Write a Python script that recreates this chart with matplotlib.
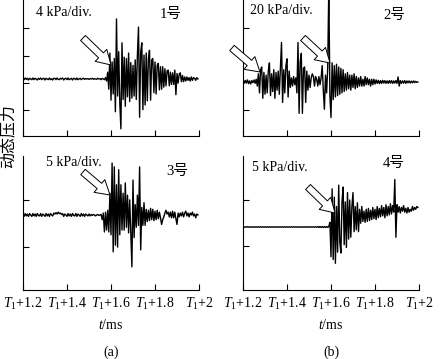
import numpy as np
import matplotlib
matplotlib.use("Agg")
import matplotlib.pyplot as plt
from matplotlib.patches import FancyArrowPatch

plt.rcParams['font.family'] = ['Liberation Serif', 'Noto Sans CJK SC']
plt.rcParams['mathtext.fontset'] = 'custom'
plt.rcParams['mathtext.rm'] = 'Liberation Serif'
plt.rcParams['mathtext.it'] = 'Liberation Serif:italic'

# sampling grid (ms after T1)
t_start = 1.2
dt = 0.005
n_samples = 160

x_ticks = [1.2, 1.4, 1.6, 1.8, 2.0]
x_tick_labels = [r'$T_1$+1.2', r'$T_1$+1.4', r'$T_1$+1.6', r'$T_1$+1.8', r'$T_1$+2']

# dynamic pressure, kPa (relative to baseline)
p1 = [0.1, -0.1, 0.15, -0.05, 0.1, -0.15, 0.1, 0.0, -0.1, 0.15,
      -0.1, 0.1, 0.0, -0.15, 0.1, -0.05, 0.15, -0.1, 0.05, 0.1,
      -0.15, 0.1, 0.0, -0.1, 0.15, -0.1, 0.05, -0.15, 0.1, 0.1,
      -0.1, 0.15, -0.05, -0.1, 0.1, 0.0, 0.15, -0.15, 0.05, 0.1,
      -0.1, 0.15, -0.1, 0.0, 0.1, -0.15, 0.1, 0.05, -0.1, 0.15,
      -0.1, 0.0, 0.1, -0.1, 0.05, 0.1, -0.05, 0.05, 0.0, 0.05,
      -0.05, 0.05, 0.0, 0.1, -0.05, 0.05, 0.0, -0.05, 0.1, 0.0,
      0.05, -0.1, 0.1, 0.0, -0.1, 0.2, -0.3,
      1.0, -1.5, 3.8, -3.1, 2.5, -2.2, 3.0, -4.8, 8.8, -2.5,
      4.0, -3.5, -7.3, 5.3, -3.0, 3.2, -4.0, 3.0, -2.6, 3.8,
      -3.3, 2.4, -2.8, 2.0, -2.5, 2.8, -3.0, 3.5, 7.6, -5.6,
      4.0, 5.3, -4.5, 3.5, -3.8, 3.8, -3.2, 3.0, 4.2, -3.1,
      2.8, 3.0, -2.0, 2.5, -2.2, 2.0, 2.3, -1.6, 1.8, -1.5,
      1.8, -1.2, 1.5, -1.0, 1.2, 1.3, -1.0, 1.0, -0.8, 0.9,
      -0.8, 1.3, -2.3, 0.8, -0.6, 0.7, 0.9, -0.4, 0.5, -0.4,
      0.3, -0.3, 0.3, -0.2, 0.2, -0.3, 0.3, -0.2, 0.2, 0.1,
      -0.2, 0.2, 0.0]

p2 = [0.5, -1.0, 1.2, -0.8, 1.5, -1.2, 0.8, -1.5, 1.0, -0.5, 1.5, -1.0, 2.0,
      -3, 6, -8, 9, 11, -12, 7, -9, 5, -8,
      8, 14, -10, 6, -7, 9, -12, 7, -6, 8,
      -9, 10, 29, -15, 9, -8, 12, 17, -11, 8,
      -4, 3, -3, 4, -2, 3,
      -8, 29, -23, 15, 21, -23, 10, 11, -15, 8,
      -6, 5, -4, 3, 6, 4, -3, 4, 2, -3, 4, -2, 3,
      12, -6, -20, 5, -8, 10,
      70, -10, -26, 14, -13, 12, -11, 13, -10, 11,
      -9, 10, -8, 9, -7, 6, -6, 7, -5, 5,
      -6, 5, -4, 6, -5, 4, -4, 3, -3, 4,
      -3, 2, -3, 4, -2, 3, -2, 2, -3, 2,
      -2, 2, -1.5, 1.5, -1, 1.2, -1.2, 1, -1, 1.2,
      -0.8, 1, -1, 0.8, -1, 1, -0.8, 1, -1, 0.8,
      -0.8, 1, -1, 3.7, -3, 1, -1, 0.8, -0.8, 1,
      -1, 0.8, -0.6, 0.8, -0.8, 0.6, -0.6, 0.8, -0.5, 0.5,
      -0.3, 0.0]

p3 = [0.1, -0.15, 0.15, -0.1, 0.1, -0.15, 0.15, 0.0, -0.15, 0.15,
      -0.1, 0.1, -0.15, 0.15, -0.05, -0.1, 0.15, -0.15, 0.1, 0.0,
      -0.15, 0.15, -0.1, 0.1, -0.15, 0.15, 0.0, -0.1, 0.2, 0.1,
      0.25, 0.1, 0.3, 0.15, 0.2, 0.05, 0.15, -0.15, 0.1, 0.0,
      -0.15, 0.15, -0.1, 0.1, -0.15, 0.15, -0.05, -0.1, 0.15, -0.15,
      0.1, 0.0, -0.15, 0.15, -0.1, 0.1, -0.15, 0.1, 0.0, -0.1,
      0.1, -0.1, 0.05, -0.05, 0.05, 0.0, -0.1, 0.0, 0.05, -0.05,
      0.0, 0.05,
      -0.5, 0.2, -1.8, 0.3, -1.6, 0.5, -1.8, 2.3, -2.1, 5.5,
      -3.9, 5.1, -3.2, 3.2, -3.4, 4.8, -2.1, 3.2, -1.6, 2.3,
      -1.6, 3.4, -1.3, 2.1, -1.9, 1.6, -2.1, -5.5, 3.7, -2.4,
      1.1, -1.3, 2.1, -1.1, 5.1, -3.7, 0.8, -1.1, 1.3, -1.1,
      0.6, -0.7, 0.5, -0.6, 0.7, -0.5, 0.6, -0.6, 0.4, -0.5,
      0.5, -0.4, 0.3, -0.3, -1.0, -0.5, -0.2, 0.2, 0.5, 0.1,
      0.3, -0.2, 0.3, -0.3, 0.4, -0.3, 0.3, -0.4, -1.0, 0.2,
      -0.2, 0.2, -0.1, 0.3, -0.2, 0.2, 0.4, -0.1, 0.2, -0.2,
      0.2, 0.0, 0.3, -0.1, 0.1, -0.3, 0.1, 0.0]

p4 = [0.03, -0.03, 0.02, -0.02, 0.03, -0.03, 0.02, -0.02, 0.03, -0.03,
      0.02, -0.02, 0.03, -0.03, 0.02, -0.02, 0.03, -0.03, 0.02, -0.02,
      0.03, -0.03, 0.02, -0.02, 0.03, -0.03, 0.02, -0.02, 0.03, -0.03,
      0.02, -0.02, 0.03, -0.03, 0.02, -0.02, 0.03, -0.03, 0.02, -0.02,
      0.03, -0.03, 0.02, -0.02, 0.03, -0.03, 0.02, -0.02, 0.03, -0.03,
      0.02, -0.02, 0.03, -0.03, 0.02, -0.02, 0.03, -0.03, 0.02, -0.02,
      0.03, -0.03, 0.02, -0.02, 0.03, -0.03, 0.02, -0.02, 0.05, -0.05,
      0.05, -0.05, 0.05, -0.05, 0.05, -0.05, 0.05, -0.05, 0.05,
      0.5, -3.2, 4.1, -3.5, 3.2, -3.9, 2.2, -2.7, 4.5, -1.6,
      -2.8, 2.7, 4.3, -1.9, 2.7, -2.2, 3.7, -1.3, 2.9, -1.1,
      2.2, 3.7, -0.5, 2.2, -0.3, 2.6, -0.5, 1.9, 0.4, 2.2,
      0.6, 1.7, 0.5, 1.9, 0.6, 2.0, 0.7, 1.8, 0.8, 2.1,
      0.9, 1.9, 0.8, 2.2, 1.0, 2.0, 1.1, 2.3, 1.2, 2.1,
      1.0, 2.4, 1.2, 2.2, 1.3, 2.5, 1.4, 2.3, 1.6, 5.1,
      -1.1, 2.4, 1.6, 2.2, 1.5, 2.1, 1.7, 2.3, 1.6, 2.0,
      1.5, 2.1, 1.6, 1.9, 1.7, 2.2, 1.8, 2.1, 1.9, 2.2,
      2.1]

scales = ['4 kPa/div.', '20 kPa/div.', '5 kPa/div.', '5 kPa/div.']
names = ['1号', '2号', '3号', '4号']

W, H = 440, 359
fig = plt.figure(figsize=(W / 100, H / 100), dpi=100)

def fx(px):
    return px / W

def fy(py):
    return 1 - py / H

panels = [
    dict(data=p1, rect=(23, 0, 199, 136), ylim=(-8.35, 11.57), yt=[-4.54, -0.59, 3.37, 7.47],
         scale_xy=(36, 13), name_xy=(160, 14), labels=False),
    dict(data=p2, rect=(243, 0, 419, 136), ylim=(-39.6, 60.1), yt=[-20.5, 39.6],
         scale_xy=(250, 10), name_xy=(383, 15), labels=False),
    dict(data=p3, rect=(23, 156, 199, 290), ylim=(-7.95, 6.25), yt=[-3.39, 1.59],
         scale_xy=(46, 163), name_xy=(166, 171), labels=True),
    dict(data=p4, rect=(243, 156, 419, 290), ylim=(-6.77, 7.63), yt=[-2.04, 2.90],
         scale_xy=(252, 167), name_xy=(383, 163), labels=True),
]

t = t_start + dt * np.arange(n_samples)

for k, pn in enumerate(panels):
    x0, y0, x1, y1 = pn['rect']
    ax = fig.add_axes([fx(x0), fy(y1), (x1 - x0) / W, (y1 - y0) / H])
    ax.plot(t[:len(pn['data'])], pn['data'], color='black', lw=1.0)
    ax.set_xlim(1.2, 2.0)
    ax.set_ylim(*pn['ylim'])
    ax.set_xticks(x_ticks)
    ax.set_yticks(pn['yt'])
    ax.set_yticklabels([])
    if pn['labels']:
        ax.set_xticklabels(x_tick_labels, fontsize=10)
    else:
        ax.set_xticklabels([])
    ax.tick_params(direction='in', length=4, width=0.8, pad=4)
    for s in ['top', 'right']:
        ax.spines[s].set_visible(False)
    for s in ['left', 'bottom']:
        ax.spines[s].set_linewidth(0.8)
    ax.patch.set_alpha(0)
    sx, sy = pn['scale_xy']
    fig.text(fx(sx), fy(sy), scales[k], fontsize=10, ha='left', va='center')
    nx, ny = pn['name_xy']
    fig.text(fx(nx), fy(ny), names[k], fontsize=10.5, ha='left', va='center')

arrows = [((83, 38), (111, 65)), ((232, 48), (260, 72)), ((303, 38), (330, 63)),
          ((83, 172), (110, 195)), ((308, 187), (335, 213))]
for (ax_, ay_), (bx_, by_) in arrows:
    arr = FancyArrowPatch((fx(ax_), fy(ay_)), (fx(bx_), fy(by_)), transform=fig.transFigure,
                          arrowstyle='simple,head_width=0.6,head_length=0.5,tail_width=0.25',
                          mutation_scale=20, fc='white', ec='black', lw=0.7,
                          shrinkA=0, shrinkB=0)
    fig.add_artist(arr)

fig.text(fx(8), fy(136), '动态压力', rotation=90, fontsize=11.5, ha='center', va='center')
fig.text(fx(111), fy(325), r'$t$/ms', fontsize=10, ha='center', va='center')
fig.text(fx(331), fy(325), r'$t$/ms', fontsize=10, ha='center', va='center')
fig.text(fx(111), fy(352), '(a)', fontsize=10, ha='center', va='center')
fig.text(fx(331), fy(352), '(b)', fontsize=10, ha='center', va='center')

fig.savefig('out.png', dpi=100)
